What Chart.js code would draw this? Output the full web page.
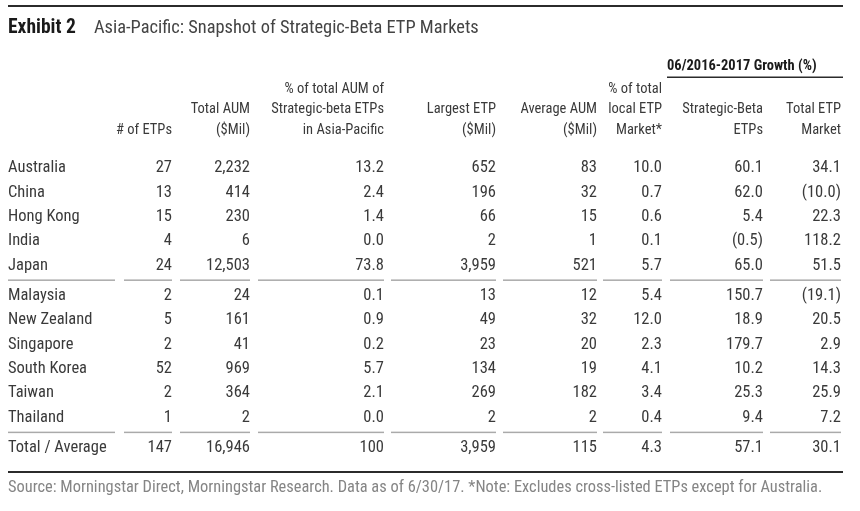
<!DOCTYPE html>
<html><head><meta charset="utf-8">
<script src="https://cdn.jsdelivr.net/npm/chart.js@4.4.1/dist/chart.umd.min.js"></script>
<style>html,body{margin:0;padding:0;background:#fff;}#wrap{width:860px;height:511px;}</style>
</head><body><div id="wrap"><canvas id="c" width="860" height="511"></canvas></div>
<script>
const countries = ["Australia","China","Hong Kong","India","Japan","Malaysia","New Zealand","Singapore","South Korea","Taiwan","Thailand","Total / Average"];
const numEtps   = [27,13,15,4,24,2,5,2,52,2,1,147];
const totalAum  = [2232,414,230,6,12503,24,161,41,969,364,2,16946];
const pctAumAP  = [13.2,2.4,1.4,0.0,73.8,0.1,0.9,0.2,5.7,2.1,0.0,100];
const largestEtp= [652,196,66,2,3959,13,49,23,134,269,2,3959];
const avgAum    = [83,32,15,1,521,12,32,20,19,182,2,115];
const pctLocal  = [10.0,0.7,0.6,0.1,5.7,5.4,12.0,2.3,4.1,3.4,0.4,4.3];
const sbGrowth  = [60.1,62.0,5.4,-0.5,65.0,150.7,18.9,179.7,10.2,25.3,9.4,57.1];
const etpGrowth = [34.1,-10.0,22.3,118.2,51.5,-19.1,20.5,2.9,14.3,25.9,7.2,30.1];
const headers = [
  ["# of ETPs"],
  ["Total AUM","($Mil)"],
  ["% of total AUM of","Strategic-beta ETPs","in Asia-Pacific"],
  ["Largest ETP","($Mil)"],
  ["Average AUM","($Mil)"],
  ["% of total","local ETP","Market*"],
  ["Strategic-Beta","ETPs"],
  ["Total ETP","Market"]
];
const groupHeader = "06/2016-2017 Growth (%)";
const titleBold = "Exhibit 2";
const titleText = "Asia-Pacific: Snapshot of Strategic-Beta ETP Markets";
const sourceText = "Source: Morningstar Direct, Morningstar Research. Data as of 6/30/17. *Note: Excludes cross-listed ETPs except for Australia.";

const columns = [numEtps,totalAum,pctAumAP,largestEtp,avgAum,pctLocal,sbGrowth,etpGrowth];
const formats = ["int","int","pct","int","int","pct","pct","pct"];

// layout (not data)
const COL_RIGHT = [172,250,384,496,597,662,763,841];
const SEG_LEFT  = [124,180,258,391,503,603,670,770];
const LABEL_X = 8, LABEL_SEG_RIGHT = 115;
const GAP = 0.24;
const breaks = [5, 11];
function rowPos(i){ let p=i; breaks.forEach(b=>{ if(i>=b) p+=GAP; }); return p; }

const FONT = "'Roboto Condensed','Liberation Sans Narrow',sans-serif";

function fmt(v, f){
  let s;
  if (f==="int") s = Math.abs(v).toLocaleString("en-US");
  else s = (Math.abs(v)===100) ? "100" : Math.abs(v).toFixed(1);
  return v<0 ? "("+s+")" : s;
}

const datasets = columns.map((col,j)=>({
  label: headers[j].join(" "),
  data: col.map((v,i)=>({x: COL_RIGHT[j], y: rowPos(i), v: v})),
  pointRadius: 0, pointHoverRadius: 0, showLine: false
}));
datasets.unshift({
  label: "Country",
  data: countries.map((c,i)=>({x: LABEL_X, y: rowPos(i)})),
  pointRadius: 0, pointHoverRadius: 0, showLine: false
});

const tablePlugin = {
  id: 'table',
  afterDatasetsDraw(chart){
    const ctx = chart.ctx;
    const xs = chart.scales.x, ys = chart.scales.y;
    ctx.save();
    // top rule
    ctx.fillStyle = "#2b2b2b";
    ctx.fillRect(8, 5, 835, 2);
    // title
    ctx.textBaseline = "alphabetic";
    ctx.textAlign = "left";
    ctx.font = "bold 19.5px " + FONT;
    ctx.fillStyle = "#1a1a1a";
    ctx.fillText(titleBold, 8, 32.5);
    ctx.font = "18.4px " + FONT;
    ctx.fillStyle = "#444";
    ctx.fillText(titleText, 94, 32.5);
    // group header
    ctx.font = "bold 14.5px " + FONT;
    ctx.fillStyle = "#1a1a1a";
    ctx.fillText(groupHeader, 667, 70);
    ctx.fillStyle = "#2b2b2b";
    ctx.fillRect(667, 76.5, 176, 1.5);
    // column headers
    ctx.font = "14.5px " + FONT;
    ctx.fillStyle = "#3a3a3a";
    ctx.textAlign = "right";
    ctx.textBaseline = "middle";
    headers.forEach((h,j)=>{
      const x = xs.getPixelForValue(COL_RIGHT[j]);
      const n = h.length;
      h.forEach((line,k)=>{
        ctx.fillText(line, x, 130 - (n-1-k)*20.3);
      });
    });
    // cells
    ctx.fillStyle = "#3a3a3a";
    ctx.font = "16.5px " + FONT;
    chart.data.datasets.forEach((ds, d)=>{
      const meta = chart.getDatasetMeta(d);
      meta.data.forEach((el,i)=>{
        if (d===0){ ctx.textAlign="left"; ctx.fillText(countries[i], el.x, el.y); }
        else { ctx.textAlign="right"; ctx.fillText(fmt(ds.data[i].v, formats[d-1]), el.x, el.y); }
      });
    });
    // separators
    ctx.fillStyle = "#aaaaaa";
    breaks.forEach(b=>{
      const y = (ys.getPixelForValue(rowPos(b-1)) + ys.getPixelForValue(rowPos(b)))/2 - 0.5;
      ctx.fillRect(xs.getPixelForValue(LABEL_X), y-0.75, LABEL_SEG_RIGHT-LABEL_X, 1.5);
      COL_RIGHT.forEach((r,j)=>{
        const l = xs.getPixelForValue(SEG_LEFT[j]);
        ctx.fillRect(l, y-0.75, xs.getPixelForValue(r)-l, 1.5);
      });
    });
    // bottom rule
    ctx.fillStyle = "#2b2b2b";
    ctx.fillRect(8, 471, 835, 2);
    // source
    ctx.textAlign = "left";
    ctx.font = "16.4px " + FONT;
    ctx.fillStyle = "#858585";
    ctx.fillText(sourceText, 8, 488);
    ctx.restore();
  }
};

new Chart(document.getElementById('c'), {
  type: 'scatter',
  data: { datasets },
  options: {
    responsive: false, animation: false, devicePixelRatio: 1,
    layout: { padding: { left: 0, right: 0, top: 155.8, bottom: 50.8 } },
    plugins: { legend: {display:false}, tooltip: {enabled:false} },
    scales: {
      x: { type:'linear', min:0, max:860, display:false },
      y: { type:'linear', min:-0.5, max:11.98, reverse:true, display:false }
    }
  },
  plugins: [tablePlugin]
});
</script></body></html>
